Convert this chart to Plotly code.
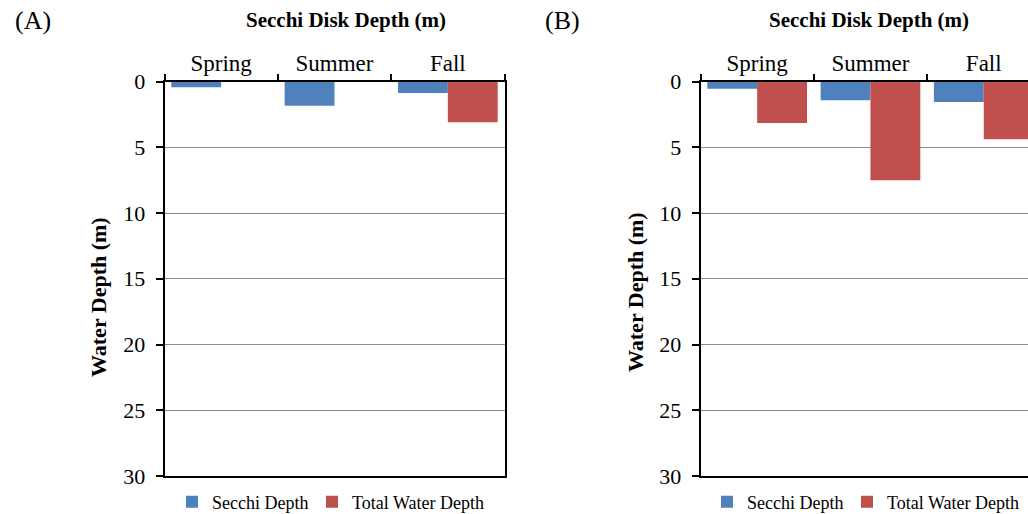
import plotly.graph_objects as go

# Seasonal depths (m) for the two sites
seasons = ["Spring", "Summer", "Fall"]
secchi_a = [0.43, 1.85, 0.88]
total_a = [None, None, 3.1]
secchi_b = [0.56, 1.42, 1.55]
total_b = [3.15, 7.51, 4.39]

y_ticks = [0, 5, 10, 15, 20, 25, 30]
series_names = ["Secchi Depth", "Total Water Depth"]
colors = ["#4F81BD", "#C0504D"]

W, H = 1028, 514
FONT = "Liberation Serif"


def px_x(p):
    return p / W


def px_y(p):
    return 1 - p / H


fig = go.Figure()

# each legend entry gets its own legend box so the entries can be spaced freely
panels = [
    ("x", "y", ["legend", "legend2"], secchi_a, total_a),
    ("x2", "y2", ["legend3", "legend4"], secchi_b, total_b),
]
for xa, ya, lgs, sec, tot in panels:
    for name, vals, col, lg in zip(series_names, [sec, tot], colors, lgs):
        fig.add_trace(go.Bar(
            x=seasons, y=vals, name=name, xaxis=xa, yaxis=ya, legend=lg,
            marker=dict(color=col, line=dict(width=0)),
        ))

y_top, y_bot = 81.5, 476
y_dom = [px_y(y_bot), px_y(y_top)]
cat_w = 113.3

common_x = dict(
    side="top", type="category", showline=True, linecolor="black", linewidth=1.5,
    mirror=True, ticks="outside", tickson="boundaries", ticklen=6,
    tickcolor="black", tickwidth=1.5, showgrid=False, automargin=False,
    tickfont=dict(family=FONT, size=23, color="black"), fixedrange=True,
)
common_y = dict(
    range=[30, 0], tickvals=y_ticks, showline=True, linecolor="black",
    linewidth=1.5, ticks="outside", ticklen=7, tickcolor="black", tickwidth=1.5,
    showgrid=True, gridcolor="#8c8c8c", gridwidth=1, zeroline=False,
    automargin=False,
    tickfont=dict(family=FONT, size=22, color="black"), ticklabelstandoff=6,
)

ax_a_l, ax_a_r = 164.5, 504.5
ax_b_l = 700.5
b_range_end = -0.5 + (W - ax_b_l) / cat_w

legend_style = dict(
    orientation="h", xanchor="left", yanchor="middle",
    font=dict(family=FONT, size=18, color="black"), itemwidth=30,
    bgcolor="rgba(0,0,0,0)",
)
legend_x = [172, 312, 707, 847]

fig.update_layout(
    template="none",
    width=W, height=H, margin=dict(l=0, r=0, t=0, b=0, autoexpand=False),
    paper_bgcolor="white", plot_bgcolor="white",
    barmode="group", bargap=0.12, bargroupgap=0,
    xaxis=dict(domain=[px_x(ax_a_l), px_x(ax_a_r)], anchor="y",
               range=[-0.5, 2.5], **common_x),
    yaxis=dict(domain=y_dom, anchor="x", mirror=True, **common_y),
    xaxis2=dict(domain=[px_x(ax_b_l), 1.0], anchor="y2",
                range=[-0.5, b_range_end], **common_x),
    yaxis2=dict(domain=y_dom, anchor="x2", mirror=False, **common_y),
    showlegend=True,
)
for key, lx in zip(["legend", "legend2", "legend3", "legend4"], legend_x):
    fig.update_layout({key: dict(x=px_x(lx), y=px_y(502), **legend_style)})

annotations = [
    dict(text="(A)", x=px_x(13), y=px_y(21), xanchor="left", yanchor="middle",
         font=dict(family=FONT, size=26, color="black")),
    dict(text="(B)", x=px_x(543), y=px_y(21), xanchor="left", yanchor="middle",
         font=dict(family=FONT, size=26, color="black")),
    dict(text="<b>Secchi Disk Depth (m)</b>", x=px_x(346), y=px_y(20),
         xanchor="center", yanchor="middle",
         font=dict(family=FONT, size=21, color="black")),
    dict(text="<b>Secchi Disk Depth (m)</b>", x=px_x(869), y=px_y(20),
         xanchor="center", yanchor="middle",
         font=dict(family=FONT, size=21, color="black")),
    dict(text="<b>Water Depth (m)</b>", x=px_x(98), y=px_y(297), textangle=-90,
         xanchor="center", yanchor="middle",
         font=dict(family=FONT, size=22, color="black")),
    dict(text="<b>Water Depth (m)</b>", x=px_x(635), y=px_y(292), textangle=-90,
         xanchor="center", yanchor="middle",
         font=dict(family=FONT, size=22, color="black")),
]
for a in annotations:
    a.update(xref="paper", yref="paper", showarrow=False)
fig.update_layout(annotations=annotations)

fig.write_html("out.html")
